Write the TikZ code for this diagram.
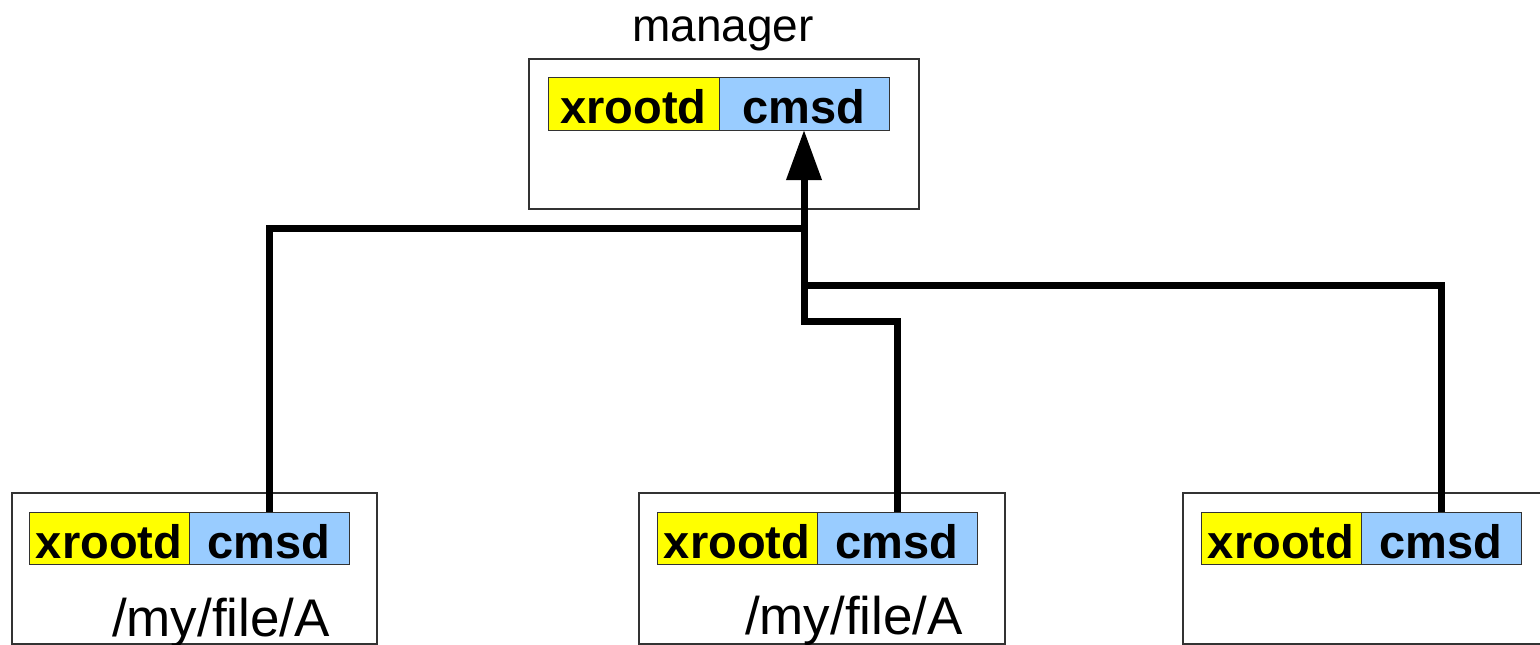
\documentclass[tikz,border=0pt]{standalone}
\usepackage{fontspec}
\setmainfont{Liberation Sans}
\usetikzlibrary{arrows.meta}
\definecolor{ybox}{HTML}{FFFF00}
\definecolor{bbox}{HTML}{99CCFF}
\definecolor{edge}{HTML}{333333}
\tikzset{
  hostbox/.style={draw=edge, line width=1.4pt, fill=white, inner sep=0pt, outer sep=0pt, minimum height=151pt},
  procbox/.style={draw=edge, line width=0.9pt, inner sep=0pt, outer sep=0pt, minimum height=52pt,
    font=\fontsize{47}{50}\selectfont\bfseries, text height=40pt, text depth=0pt},
  xrbox/.style={procbox, fill=ybox},
  cmsdbox/.style={procbox, fill=bbox},
  plainlbl/.style={anchor=base, inner sep=0pt},
  conn/.style={draw=black, line width=7pt, line join=miter}
}
\begin{document}
\begin{tikzpicture}[x=1pt,y=-1pt]
\useasboundingbox (0,0) rectangle (1540,645);
% manager
\node[plainlbl, font=\fontsize{46}{50}\selectfont] (mlbl) at (723,41) {manager};
\node[hostbox, minimum width=390pt, minimum height=150pt] (mbox) at (724,134) {};
\node[xrbox, minimum width=171pt, minimum height=53pt] (mx) at (633.5,103.5) {xrootd};
\node[cmsdbox, minimum width=170pt, minimum height=53pt] (mc) at (804,103.5) {cmsd};
% server 1
\node[hostbox, minimum width=365pt] (b1) at (194.5,568.5) {};
\node[xrbox, minimum width=160pt] (x1) at (109,538) {xrootd};
\node[cmsdbox, minimum width=160pt] (c1) at (269,538) {cmsd};
\node[plainlbl, font=\fontsize{53}{56}\selectfont] (f1) at (221,636) {/my/file/A};
% server 2
\node[hostbox, minimum width=366pt] (b2) at (822,568.5) {};
\node[xrbox, minimum width=160pt] (x2) at (737,538) {xrootd};
\node[cmsdbox, minimum width=160pt] (c2) at (897,538) {cmsd};
\node[plainlbl, font=\fontsize{53}{56}\selectfont] (f2) at (854,634) {/my/file/A};
% server 3
\node[hostbox, minimum width=362pt] (b3) at (1364,568.5) {};
\node[xrbox, minimum width=160pt] (x3) at (1281,538) {xrootd};
\node[cmsdbox, minimum width=160pt] (c3) at (1441,538) {cmsd};
% junctions
\coordinate (jA) at (804,228);
\coordinate (jC) at (804,285);
\coordinate (jB) at (804,321);
% connectors
\draw[conn] (c1.north) |- (jA);
\draw[conn] (c3.north) |- (jC);
\draw[conn, -{Triangle[width=34pt,length=50pt]}] (c2.north) |- (jB) -- (mc.south);
\end{tikzpicture}
\end{document}
